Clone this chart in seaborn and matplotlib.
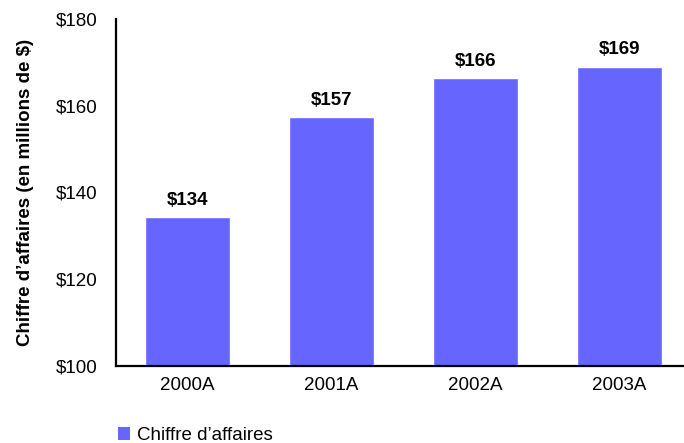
import matplotlib
matplotlib.use("Agg")
import matplotlib.pyplot as plt
import seaborn as sns
import pandas as pd
from matplotlib.patches import Patch

years = ["2000A", "2001A", "2002A", "2003A"]
revenue = [134.3, 157.4, 166.4, 169.0]
labels = ["$134", "$157", "$166", "$169"]
yticks = [100, 120, 140, 160, 180]
ytick_labels = ["$100", "$120", "$140", "$160", "$180"]

sns.set_style("white")
plt.rcParams['font.family'] = ['Liberation Sans', 'DejaVu Sans']
plt.rcParams['text.color'] = 'black'

FS = 13.5
color = "#6666FF"
df = pd.DataFrame({"year": years, "rev": revenue})

fig = plt.figure(figsize=(6.84, 4.43), dpi=100)
ax = fig.add_axes([0.169, 0.174, 0.831, 0.783])
sns.barplot(data=df, x="year", y="rev", color=color, width=0.59, ax=ax, saturation=1)

ax.set_ylim(100, 180)
ax.set_xlim(-0.5, 3.45)
ax.set_yticks(yticks)
ax.set_yticklabels(ytick_labels)
ax.tick_params(axis='both', length=0, labelsize=FS, colors='black')
ax.tick_params(axis='x', pad=8)
ax.tick_params(axis='y', pad=13)
ax.set_xlabel("")
ax.set_ylabel("Chiffre d’affaires (en millions de $)", fontsize=FS, fontweight='bold',
              labelpad=16, color='black')

for s in ["top", "right"]:
    ax.spines[s].set_visible(False)
for s in ["left", "bottom"]:
    ax.spines[s].set_color("black")
    ax.spines[s].set_linewidth(1.6)

for i, (v, lab) in enumerate(zip(revenue, labels)):
    ax.annotate(lab, (i, v), xytext=(0, 6), textcoords="offset points",
                ha="center", va="bottom", fontsize=FS, fontweight="bold", color='black')

handle = Patch(facecolor=color, edgecolor="none", label="Chiffre d’affaires")
fig.legend(handles=[handle], loc="lower left", bbox_to_anchor=(0.148, -0.04),
           frameon=False, fontsize=FS, handlelength=0.65, handleheight=0.65,
           handletextpad=0.35)

fig.savefig("out.png", dpi=100)
